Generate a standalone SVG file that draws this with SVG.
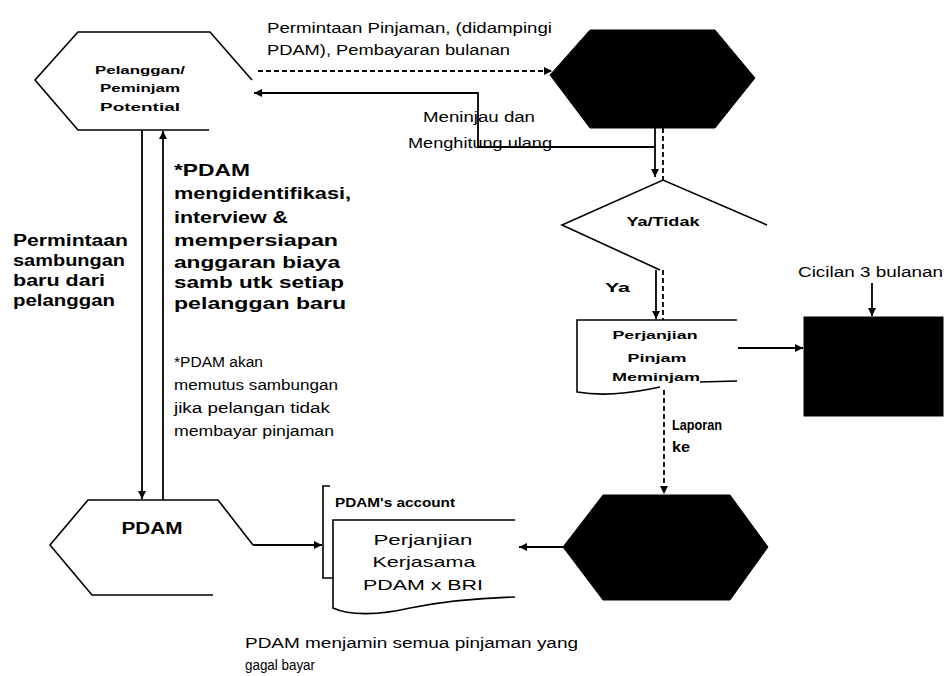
<svg xmlns="http://www.w3.org/2000/svg" width="946" height="676" viewBox="0 0 946 676">
<defs>
<marker id="ah" viewBox="0 0 10 10" refX="10" refY="5" markerWidth="9" markerHeight="8" markerUnits="userSpaceOnUse" orient="auto"><path d="M0,0 L10,5 L0,10 z" fill="#000"/></marker>
<style>
.sh{fill:none;stroke:#000;stroke-width:1.6}
.blk{fill:#000;stroke:#000;stroke-width:1}
.c{fill:none;stroke:#000;stroke-width:1.8}
.d{fill:none;stroke:#000;stroke-width:1.8;stroke-dasharray:5,3}
.t{font-family:"Liberation Sans",Arial,sans-serif;fill:#000}
.b{font-weight:bold}
</style>
</defs>
<rect width="946" height="676" fill="#fff"/>

<g id="pelanggan">
<polyline class="sh" points="252,80 210,32 78,32 35,80 78,130 209,130"/>
<text class="t b" font-size="11" text-anchor="middle" x="140" y="74" textLength="90" lengthAdjust="spacingAndGlyphs">Pelanggan/</text>
<text class="t b" font-size="11" text-anchor="middle" x="140" y="92" textLength="80" lengthAdjust="spacingAndGlyphs">Peminjam</text>
<text class="t b" font-size="11" text-anchor="middle" x="140" y="111" textLength="80" lengthAdjust="spacingAndGlyphs">Potential</text>
</g>

<g id="bank-top">
<polygon class="blk" points="550,75 590,30 715,30 755,78 715,128 590,128"/>
</g>

<g id="keputusan">
<polyline class="sh" points="767,225 663,180 562,225 660,270"/>
<text class="t b" font-size="12" text-anchor="middle" x="663" y="226" textLength="73" lengthAdjust="spacingAndGlyphs">Ya/Tidak</text>
</g>

<g id="perjanjian-pinjam">
<path class="sh" d="M737,320 H577 V392 C600,396 625,394 650,389 L660,387 M700,382 L737,381"/>
<text class="t b" font-size="11.5" text-anchor="middle" x="655" y="339" textLength="85" lengthAdjust="spacingAndGlyphs">Perjanjian</text>
<text class="t b" font-size="11.5" text-anchor="middle" x="657" y="362" textLength="59" lengthAdjust="spacingAndGlyphs">Pinjam</text>
<text class="t b" font-size="11.5" text-anchor="middle" x="656" y="381" textLength="88" lengthAdjust="spacingAndGlyphs">Meminjam</text>
</g>

<g id="cicilan-box">
<rect class="blk" x="804" y="317" width="139" height="99"/>
</g>

<g id="bank-bottom">
<polygon class="blk" points="563,547 603,495 730,495 768,547 730,600 603,600"/>
</g>

<g id="pdam">
<polyline class="sh" points="253,545 218,500 88,500 50,545 92,595 213,595"/>
<text class="t b" font-size="16" text-anchor="middle" x="152" y="534" textLength="61" lengthAdjust="spacingAndGlyphs">PDAM</text>
</g>

<g id="perjanjian-kerjasama">
<path class="sh" d="M330,486 H323 V578 H333"/>
<path class="sh" d="M515,520 H333 V608 C350,616 380,615 410,608 C440,602 480,598 515,597"/>
<text class="t b" font-size="12" x="335" y="507" textLength="120" lengthAdjust="spacingAndGlyphs">PDAM's account</text>
<text class="t" font-size="15" text-anchor="middle" x="423" y="545" textLength="99" lengthAdjust="spacingAndGlyphs">Perjanjian</text>
<text class="t" font-size="15" text-anchor="middle" x="424" y="567" textLength="103" lengthAdjust="spacingAndGlyphs">Kerjasama</text>
<text class="t" font-size="15" text-anchor="middle" x="423" y="590" textLength="120" lengthAdjust="spacingAndGlyphs">PDAM x BRI</text>
</g>

<g id="connectors">
<path class="d" d="M258,71 H552" stroke-dasharray="4,1.5" marker-end="url(#ah)"/>
<path class="c" d="M655,147 H478 V93 H254" marker-end="url(#ah)"/>
<path class="c" d="M655,128 V177" marker-end="url(#ah)"/>
<path class="d" d="M663,128 V180"/>
<path class="c" d="M656,270 V319" marker-end="url(#ah)"/>
<path class="d" d="M663,270 V320"/>
<path class="c" d="M738,348 H803" marker-end="url(#ah)"/>
<path class="c" d="M872,283 V316" marker-end="url(#ah)"/>
<path class="d" d="M664,390 V494" marker-end="url(#ah)"/>
<path class="c" d="M563,547 H519" marker-end="url(#ah)"/>
<path class="c" d="M253,545 H322" marker-end="url(#ah)"/>
<path class="c" d="M142,130 V499" marker-end="url(#ah)"/>
<path class="c" d="M163,500 V131" marker-end="url(#ah)"/>
</g>

<g id="labels">
<text class="t" font-size="14" x="267" y="33" textLength="285" lengthAdjust="spacingAndGlyphs">Permintaan Pinjaman, (didampingi</text>
<text class="t" font-size="14" x="267" y="55" textLength="243" lengthAdjust="spacingAndGlyphs">PDAM), Pembayaran bulanan</text>
<text class="t" font-size="14" text-anchor="middle" x="479" y="122" textLength="112" lengthAdjust="spacingAndGlyphs">Meninjau dan</text>
<text class="t" font-size="14" text-anchor="middle" x="480" y="148" textLength="144" lengthAdjust="spacingAndGlyphs">Menghitung ulang</text>
<text class="t b" font-size="13" x="605" y="292" textLength="25" lengthAdjust="spacingAndGlyphs">Ya</text>
<text class="t" font-size="14" x="798" y="277" textLength="145" lengthAdjust="spacingAndGlyphs">Cicilan 3 bulanan</text>
<text class="t b" font-size="14" x="672" y="430" textLength="50" lengthAdjust="spacingAndGlyphs">Laporan</text>
<text class="t b" font-size="14" x="672" y="452" textLength="18" lengthAdjust="spacingAndGlyphs">ke</text>
<text class="t b" font-size="16" x="13" y="246" textLength="115" lengthAdjust="spacingAndGlyphs">Permintaan</text>
<text class="t b" font-size="16" x="13" y="266" textLength="112" lengthAdjust="spacingAndGlyphs">sambungan</text>
<text class="t b" font-size="16" x="13" y="286" textLength="92" lengthAdjust="spacingAndGlyphs">baru dari</text>
<text class="t b" font-size="16" x="13" y="306" textLength="102" lengthAdjust="spacingAndGlyphs">pelanggan</text>
<text class="t b" font-size="17" x="174" y="176" textLength="76" lengthAdjust="spacingAndGlyphs">*PDAM</text>
<text class="t b" font-size="17" x="174" y="199" textLength="177" lengthAdjust="spacingAndGlyphs">mengidentifikasi,</text>
<text class="t b" font-size="17" x="174" y="223" textLength="114" lengthAdjust="spacingAndGlyphs">interview &amp;</text>
<text class="t b" font-size="17" x="174" y="246" textLength="164" lengthAdjust="spacingAndGlyphs">mempersiapan</text>
<text class="t b" font-size="17" x="174" y="268" textLength="166" lengthAdjust="spacingAndGlyphs">anggaran biaya</text>
<text class="t b" font-size="17" x="174" y="288" textLength="170" lengthAdjust="spacingAndGlyphs">samb utk setiap</text>
<text class="t b" font-size="17" x="174" y="309" textLength="172" lengthAdjust="spacingAndGlyphs">pelanggan baru</text>
<text class="t" font-size="14" x="174" y="367" textLength="89" lengthAdjust="spacingAndGlyphs">*PDAM akan</text>
<text class="t" font-size="14" x="174" y="390" textLength="164" lengthAdjust="spacingAndGlyphs">memutus sambungan</text>
<text class="t" font-size="14" x="174" y="413" textLength="156" lengthAdjust="spacingAndGlyphs">jika pelangan tidak</text>
<text class="t" font-size="14" x="174" y="436" textLength="160" lengthAdjust="spacingAndGlyphs">membayar pinjaman</text>
<text class="t" font-size="14" x="245" y="648" textLength="333" lengthAdjust="spacingAndGlyphs">PDAM  menjamin semua pinjaman yang</text>
<text class="t" font-size="14" x="245" y="670" textLength="70" lengthAdjust="spacingAndGlyphs">gagal bayar</text>
</g>
</svg>
